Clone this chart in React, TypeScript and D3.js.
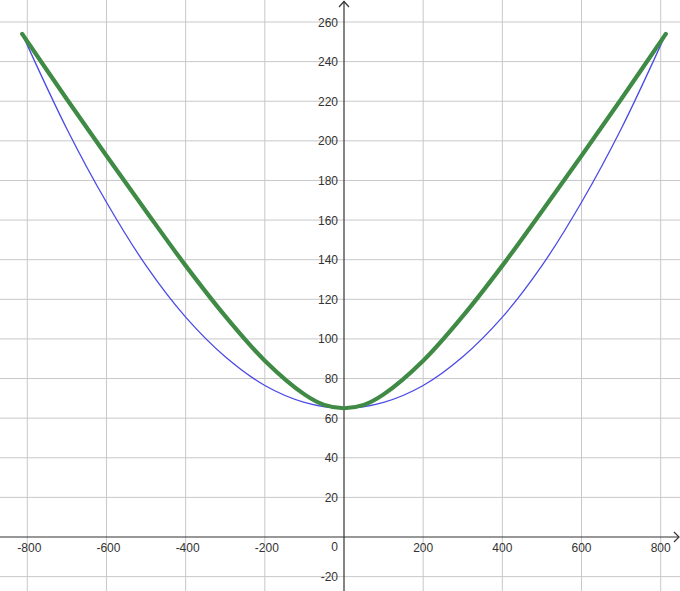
import React, { useRef, useEffect } from "react";
import * as d3 from "d3";

// values
const blueX = [-813, -700, -600, -500, -400, -300, -200, -100, 0, 100, 200, 300, 400, 500, 600, 700, 813];
const blueY = [254, 206, 169, 137, 111, 91, 76.5, 68, 65, 68, 76.5, 91, 111, 137, 169, 206, 254];

const greenX = [-813, -700, -600, -500, -400, -300, -200, -100, -50, 0, 50, 100, 200, 300, 400, 500, 600, 700, 813];
const greenY = [254, 221, 192.5, 164.5, 137, 111.5, 89, 72, 66.7, 65, 66.7, 72, 89, 111.5, 137, 164.5, 192.5, 221, 254];

const xTicks = [-800, -600, -400, -200, 200, 400, 600, 800];
const yTicks = [-20, 20, 40, 60, 80, 100, 120, 140, 160, 180, 200, 220, 240, 260];

const W = 680;
const H = 591;

const App = () => {
  const svgRef = useRef<SVGSVGElement>(null);

  useEffect(() => {
    if (!svgRef.current) return;
    const svg = d3.select(svgRef.current);
    svg.selectAll("*").remove();

    const x = d3.scaleLinear().domain([-800, 800]).range([27.3, 660.7]);
    const y = d3.scaleLinear().domain([0, 260]).range([537, 22]);

    svg.append("rect").attr("width", W).attr("height", H).attr("fill", "white");

    // grid
    const grid = svg.append("g").attr("stroke", "#c8c8c8").attr("stroke-width", 1);
    xTicks.forEach((v) => {
      grid.append("line").attr("x1", x(v)).attr("x2", x(v)).attr("y1", 0).attr("y2", H);
    });
    yTicks.forEach((v) => {
      grid.append("line").attr("x1", 0).attr("x2", W).attr("y1", y(v)).attr("y2", y(v));
    });

    // axes
    const ax = svg.append("g").attr("stroke", "#333").attr("stroke-width", 1.2).attr("fill", "none");
    ax.append("line").attr("x1", 0).attr("x2", W - 1).attr("y1", y(0)).attr("y2", y(0));
    ax.append("line").attr("x1", x(0)).attr("x2", x(0)).attr("y1", 1).attr("y2", H);
    ax.append("path").attr("d", `M${W - 6},${y(0) - 5}L${W - 1},${y(0)}L${W - 6},${y(0) + 5}`);
    ax.append("path").attr("d", `M${x(0) - 5},7L${x(0)},1.5L${x(0) + 5},7`);

    // tick labels
    const lab = svg
      .append("g")
      .attr("font-family", "Liberation Sans, Arial, sans-serif")
      .attr("font-size", 12)
      .attr("fill", "#333");
    xTicks.forEach((v) => {
      lab
        .append("text")
        .attr("x", x(v) + (v < 0 ? 2 : 0))
        .attr("y", y(0) + 15)
        .attr("text-anchor", "middle")
        .text(String(v));
    });
    yTicks.forEach((v) => {
      lab
        .append("text")
        .attr("x", x(0) - 6)
        .attr("y", y(v) + 4.5)
        .attr("text-anchor", "end")
        .text(String(v));
    });
    lab.append("text").attr("x", x(0) - 6).attr("y", y(0) + 14).attr("text-anchor", "end").text("0");

    const line = d3.line<number>().curve(d3.curveCatmullRom.alpha(0.5));

    svg
      .append("path")
      .attr("d", line.x((_, i) => x(blueX[i])).y((d) => y(d))(blueY))
      .attr("fill", "none")
      .attr("stroke", "#4b4be6")
      .attr("stroke-width", 1.3);

    svg
      .append("path")
      .attr("d", line.x((_, i) => x(greenX[i])).y((d) => y(d))(greenY))
      .attr("fill", "none")
      .attr("stroke", "#3f8a45")
      .attr("stroke-width", 4.2)
      .attr("stroke-linecap", "round");
  }, []);

  return (
    <svg
      ref={svgRef}
      width={W}
      height={H}
      style={{ position: "absolute", left: 0, top: 0 }}
    ></svg>
  );
};

export default App;
